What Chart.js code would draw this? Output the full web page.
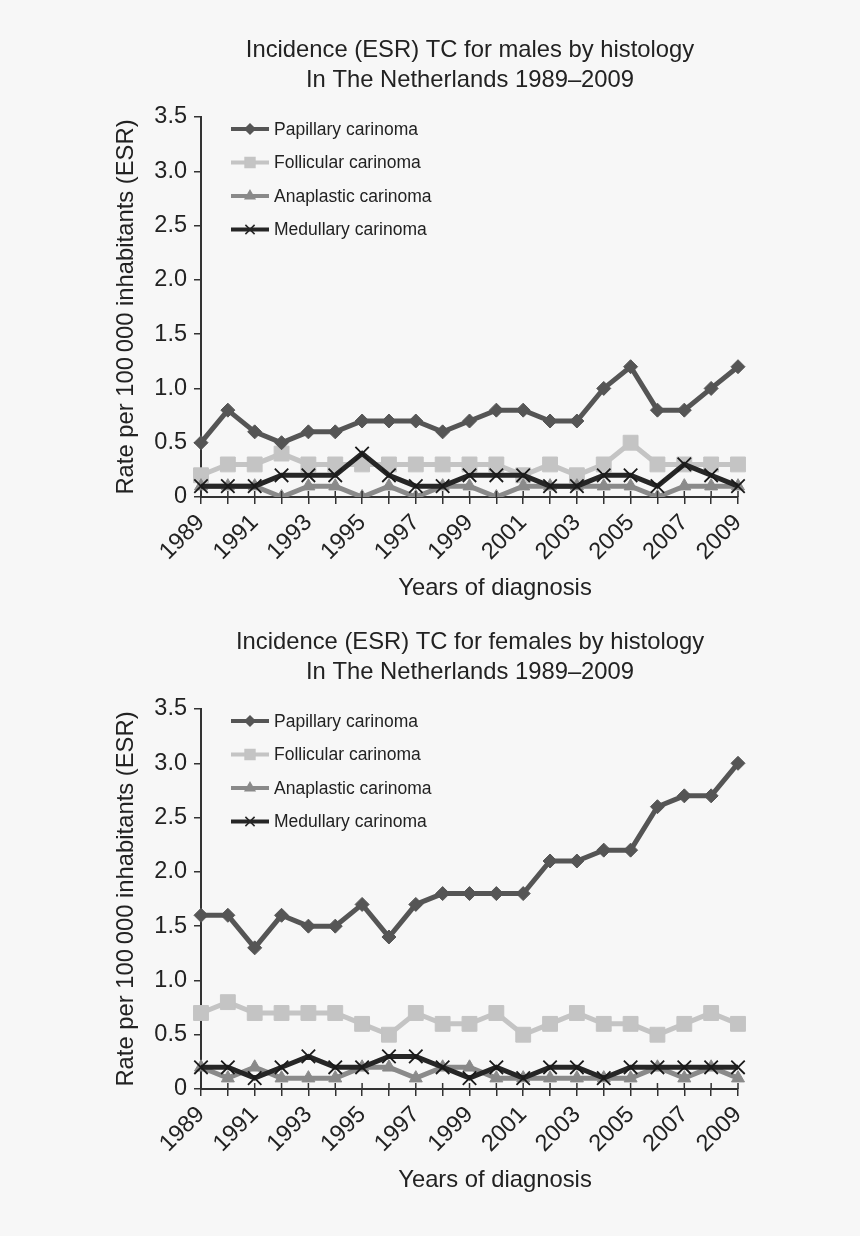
<!DOCTYPE html>
<html>
<head>
<meta charset="utf-8">
<script src="https://cdn.jsdelivr.net/npm/chart.js@4.4.1/dist/chart.umd.min.js"></script>
<style>
  body { margin: 0; background: #f7f7f7; }
  #wrap { position: relative; width: 860px; height: 1236px; }
  canvas { position: absolute; left: 0; }
</style>
</head>
<body>
<div id="wrap">
  <canvas id="males" width="860" height="618" style="top:0"></canvas>
  <canvas id="females" width="860" height="618" style="top:592px"></canvas>
</div>
<script>
// categories
const years = ['1989', '1990', '1991', '1992', '1993', '1994', '1995', '1996', '1997', '1998', '1999',
  '2000', '2001', '2002', '2003', '2004', '2005', '2006', '2007', '2008', '2009'];
const seriesNames = ['Papillary carinoma', 'Follicular carinoma', 'Anaplastic carinoma', 'Medullary carinoma'];
const yTicks = [0, 0.5, 1.0, 1.5, 2.0, 2.5, 3.0, 3.5];

// males
const malePapillary  = [0.5, 0.8, 0.6, 0.5, 0.6, 0.6, 0.7, 0.7, 0.7, 0.6, 0.7, 0.8, 0.8, 0.7, 0.7, 1.0, 1.2, 0.8, 0.8, 1.0, 1.2];
const maleFollicular = [0.2, 0.3, 0.3, 0.4, 0.3, 0.3, 0.3, 0.3, 0.3, 0.3, 0.3, 0.3, 0.2, 0.3, 0.2, 0.3, 0.5, 0.3, 0.3, 0.3, 0.3];
const maleAnaplastic = [0.1, 0.1, 0.1, 0.0, 0.1, 0.1, 0.0, 0.1, 0.0, 0.1, 0.1, 0.0, 0.1, 0.1, 0.1, 0.1, 0.1, 0.0, 0.1, 0.1, 0.1];
const maleMedullary  = [0.1, 0.1, 0.1, 0.2, 0.2, 0.2, 0.4, 0.2, 0.1, 0.1, 0.2, 0.2, 0.2, 0.1, 0.1, 0.2, 0.2, 0.1, 0.3, 0.2, 0.1];

// females
const femalePapillary  = [1.6, 1.6, 1.3, 1.6, 1.5, 1.5, 1.7, 1.4, 1.7, 1.8, 1.8, 1.8, 1.8, 2.1, 2.1, 2.2, 2.2, 2.6, 2.7, 2.7, 3.0];
const femaleFollicular = [0.7, 0.8, 0.7, 0.7, 0.7, 0.7, 0.6, 0.5, 0.7, 0.6, 0.6, 0.7, 0.5, 0.6, 0.7, 0.6, 0.6, 0.5, 0.6, 0.7, 0.6];
const femaleAnaplastic = [0.2, 0.1, 0.2, 0.1, 0.1, 0.1, 0.2, 0.2, 0.1, 0.2, 0.2, 0.1, 0.1, 0.1, 0.1, 0.1, 0.1, 0.2, 0.1, 0.2, 0.1];
const femaleMedullary  = [0.2, 0.2, 0.1, 0.2, 0.3, 0.2, 0.2, 0.3, 0.3, 0.2, 0.1, 0.2, 0.1, 0.2, 0.2, 0.1, 0.2, 0.2, 0.2, 0.2, 0.2];

const FONT = '"Liberation Sans", Arial, sans-serif';
const TEXT = '#222';

const styles = [
  { color: '#555555', point: 'rectRot', radius: 7, legendRadius: 5, order: 1 },
  { color: '#c4c4c4', point: 'rect', radius: 10.5, legendRadius: 7, order: 3 },
  { color: '#8a8a8a', point: 'triangle', radius: 7.5, legendRadius: 5.5, order: 2 },
  { color: '#262626', point: 'crossRot', radius: 9.5, legendRadius: 6.5, order: 0 }
];

// titles, legend inside the plot, x axis title and tick marks above the axis
const decorPlugin = {
  id: 'decor',
  afterDraw(chart, args, opts) {
    const ctx = chart.ctx;
    const area = chart.chartArea;
    ctx.save();
    ctx.fillStyle = TEXT;
    ctx.textAlign = 'center';
    ctx.textBaseline = 'middle';
    ctx.font = '23.8px ' + FONT;
    ctx.fillText(opts.title[0], 470, 50);
    ctx.fillText(opts.title[1], 470, 80);
    ctx.fillText('Years of diagnosis', 495, 588);

    // tick marks crossing the x axis
    const xs = chart.scales.x;
    ctx.strokeStyle = '#333';
    ctx.lineWidth = 1.5;
    for (let i = 0; i < years.length; i++) {
      const px = xs.getPixelForTick(i);
      ctx.beginPath();
      ctx.moveTo(px, area.bottom - 6);
      ctx.lineTo(px, area.bottom);
      ctx.stroke();
    }

    // legend
    ctx.textAlign = 'left';
    ctx.font = '17.5px ' + FONT;
    chart.data.datasets.forEach((ds, i) => {
      const st = styles[i];
      const y = area.top + 12 + i * 33.5;
      ctx.strokeStyle = st.color;
      ctx.lineWidth = 4;
      ctx.beginPath();
      ctx.moveTo(area.left + 30, y);
      ctx.lineTo(area.left + 68, y);
      ctx.stroke();
      ctx.fillStyle = st.color;
      ctx.strokeStyle = st.color;
      ctx.lineWidth = 1.5;
      Chart.helpers.drawPoint(ctx, { pointStyle: st.point, radius: st.legendRadius, rotation: 0, borderWidth: 1.5 }, area.left + 49, y);
      ctx.fillStyle = TEXT;
      ctx.fillText(ds.label, area.left + 73, y + 1);
    });
    ctx.restore();
  }
};

function makeDataset(i, values) {
  const st = styles[i];
  return {
    label: seriesNames[i],
    data: values,
    borderColor: st.color,
    backgroundColor: st.color,
    borderWidth: 5,
    pointStyle: st.point,
    pointRadius: st.radius,
    pointBorderWidth: st.point === 'crossRot' ? 1.8 : 1,
    pointBorderColor: st.point === 'crossRot' ? '#1a1a1a' : st.color,
    pointBackgroundColor: st.color,
    tension: 0,
    order: st.order
  };
}

function drawChart(canvasId, title, series) {
  const canvas = document.getElementById(canvasId);
  const ctx = canvas.getContext('2d');
  return new Chart(ctx, {
    type: 'line',
    data: {
      labels: years,
      datasets: series.map((values, i) => makeDataset(i, values))
    },
    options: {
      responsive: false,
      animation: false,
      devicePixelRatio: 1,
      layout: { padding: { left: 100, right: 122, top: 117, bottom: 0 } },
      plugins: {
        legend: { display: false },
        tooltip: { enabled: false },
        title: { display: false },
        decor: { title: title }
      },
      scales: {
        x: {
          offset: false,
          grid: { drawOnChartArea: false, drawTicks: true, tickLength: 7, color: '#333', lineWidth: 1.5 },
          border: { color: '#333', width: 2 },
          ticks: {
            autoSkip: false,
            maxRotation: 45,
            minRotation: 45,
            padding: 5,
            color: TEXT,
            font: { family: FONT, size: 23.5 },
            callback: (v, i) => (i % 2 === 0 ? years[i] : '')
          },
          afterFit: (scale) => { scale.height = 121; }
        },
        y: {
          min: 0,
          max: 3.5,
          afterBuildTicks: (scale) => { scale.ticks = yTicks.map(v => ({ value: v })); },
          grid: { drawOnChartArea: false, drawTicks: true, tickLength: 7, color: '#333', lineWidth: 1.5 },
          border: { color: '#333', width: 2 },
          ticks: {
            padding: 7,
            color: TEXT,
            font: { family: FONT, size: 23.5 },
            callback: (v) => (v === 0 ? '0' : v.toFixed(1))
          },
          title: {
            display: true,
            text: 'Rate per 100\u2009000 inhabitants (ESR)',
            color: TEXT,
            font: { family: FONT, size: 23.8 },
            padding: { top: 12, bottom: 0 }
          },
          afterFit: (scale) => { scale.width = 101; }
        }
      }
    },
    plugins: [decorPlugin]
  });
}

drawChart('males', ['Incidence (ESR) TC for males by histology', 'In The Netherlands 1989\u20132009'],
  [malePapillary, maleFollicular, maleAnaplastic, maleMedullary]);
drawChart('females', ['Incidence (ESR) TC for females by histology', 'In The Netherlands 1989\u20132009'],
  [femalePapillary, femaleFollicular, femaleAnaplastic, femaleMedullary]);
</script>
</body>
</html>
